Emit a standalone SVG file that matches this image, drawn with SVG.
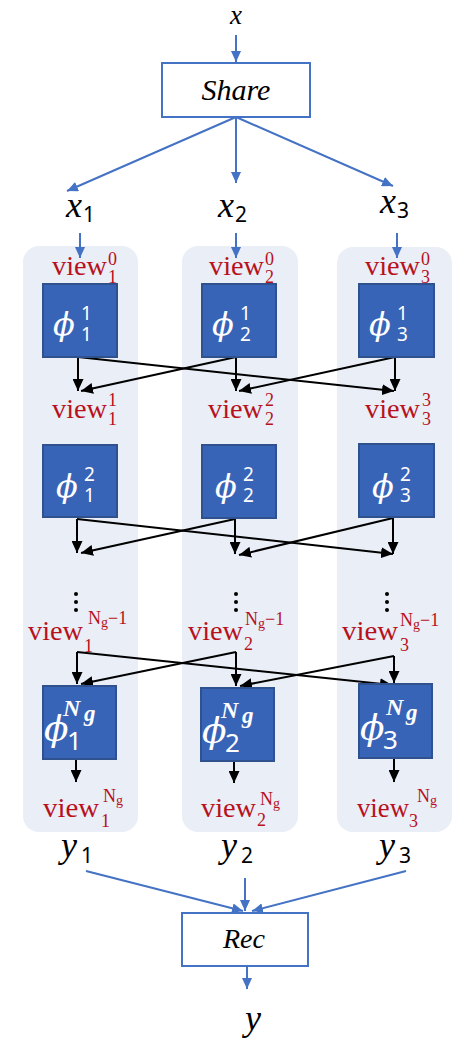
<svg xmlns="http://www.w3.org/2000/svg" width="475" height="1049" viewBox="0 0 475 1049">
<style>
.bg{fill:#fff}
.panel{fill:#E9EEF7}
.box{fill:#3864B8;stroke:#2F528F;stroke-width:2}
.wbox{fill:#fff;stroke:#4472C4;stroke-width:2}
.blue{stroke:#4472C4;stroke-width:2;fill:none}
.blk{stroke:#000;stroke-width:2;fill:none}
.m{font-family:"Liberation Serif",serif;font-style:italic;fill:#000}
.d{font-family:"Noto Sans","DejaVu Sans",sans-serif;fill:#000}
.lbl{font-family:"Liberation Serif",serif;fill:#B8111C}
.phi{font-family:"DejaVu Serif",serif;font-style:italic;fill:#fff}
.pd{font-family:"Noto Sans","DejaVu Sans",sans-serif;font-style:normal;fill:#fff}
.pn{font-family:"Liberation Serif",serif;font-style:italic;font-weight:bold}
.dot{fill:#000}
</style>
<defs>
<marker id="ab" markerUnits="userSpaceOnUse" markerWidth="11" markerHeight="10" refX="11" refY="5" orient="auto"><path d="M0,0 L11,5 L0,10 z" fill="#4472C4"/></marker>
<marker id="ak" markerUnits="userSpaceOnUse" markerWidth="12" markerHeight="11" refX="12" refY="5.5" orient="auto"><path d="M0,0 L12,5.5 L0,11 z" fill="#000"/></marker>
</defs>
<rect class="bg" x="0" y="0" width="475" height="1049"/>
<g id="panels">
<rect class="panel" x="23" y="246" width="115" height="586" rx="16"/>
<rect class="panel" x="182" y="246" width="116" height="586" rx="16"/>
<rect class="panel" x="337" y="247" width="115" height="585" rx="16"/>
</g>
<g id="connectors">
<line class="blue" x1="236" y1="35" x2="236" y2="62" marker-end="url(#ab)"/>
<line class="blue" x1="236" y1="117" x2="67" y2="191" marker-end="url(#ab)"/>
<line class="blue" x1="236" y1="117" x2="236" y2="183" marker-end="url(#ab)"/>
<line class="blue" x1="236" y1="117" x2="393" y2="186" marker-end="url(#ab)"/>
<line class="blue" x1="80" y1="233" x2="80" y2="258" marker-end="url(#ab)"/>
<line class="blue" x1="236" y1="233" x2="236" y2="258" marker-end="url(#ab)"/>
<line class="blue" x1="397" y1="233" x2="397" y2="258" marker-end="url(#ab)"/>
<line class="blk" x1="78" y1="357" x2="78" y2="391" marker-end="url(#ak)"/>
<line class="blk" x1="78" y1="357" x2="394" y2="391" marker-end="url(#ak)"/>
<line class="blk" x1="236" y1="357" x2="236" y2="391" marker-end="url(#ak)"/>
<line class="blk" x1="236" y1="357" x2="81" y2="391" marker-end="url(#ak)"/>
<line class="blk" x1="395" y1="357" x2="395" y2="391" marker-end="url(#ak)"/>
<line class="blk" x1="395" y1="357" x2="239" y2="391" marker-end="url(#ak)"/>
<line class="blk" x1="77" y1="519" x2="77" y2="553" marker-end="url(#ak)"/>
<line class="blk" x1="77" y1="519" x2="393" y2="554" marker-end="url(#ak)"/>
<line class="blk" x1="235" y1="519" x2="235" y2="554" marker-end="url(#ak)"/>
<line class="blk" x1="235" y1="519" x2="81" y2="553" marker-end="url(#ak)"/>
<line class="blk" x1="393" y1="518" x2="393" y2="554" marker-end="url(#ak)"/>
<line class="blk" x1="393" y1="518" x2="239" y2="555" marker-end="url(#ak)"/>
<line class="blk" x1="77" y1="652" x2="77" y2="684" marker-end="url(#ak)"/>
<line class="blk" x1="77" y1="652" x2="392" y2="685" marker-end="url(#ak)"/>
<line class="blk" x1="236" y1="652" x2="236" y2="686" marker-end="url(#ak)"/>
<line class="blk" x1="236" y1="652" x2="81" y2="684" marker-end="url(#ak)"/>
<line class="blk" x1="394" y1="656" x2="394" y2="683" marker-end="url(#ak)"/>
<line class="blk" x1="394" y1="656" x2="240" y2="686" marker-end="url(#ak)"/>
<line class="blk" x1="76" y1="760" x2="76" y2="782" marker-end="url(#ak)"/>
<line class="blk" x1="234" y1="762" x2="234" y2="783" marker-end="url(#ak)"/>
<line class="blk" x1="394" y1="759" x2="394" y2="782" marker-end="url(#ak)"/>
<line class="blue" x1="86" y1="871" x2="243" y2="911" marker-end="url(#ab)"/>
<line class="blue" x1="245" y1="878" x2="245" y2="911" marker-end="url(#ab)"/>
<line class="blue" x1="406" y1="871" x2="252" y2="911" marker-end="url(#ab)"/>
<line class="blue" x1="247" y1="966" x2="247" y2="989" marker-end="url(#ab)"/>
</g>
<g id="x">
<text class="m" x="236" y="24" font-size="27" text-anchor="middle">x</text>
</g>
<g id="share">
<rect class="wbox" x="162" y="63" width="148" height="54"/>
<text class="m" x="236" y="100" font-size="30" text-anchor="middle">Share</text>
</g>
<g id="x1"><text class="m" x="66" y="217" font-size="36">x<tspan class="d" x="83" y="222" font-size="21" font-style="normal">1</tspan></text></g>
<g id="x2"><text class="m" x="218" y="217" font-size="36">x<tspan class="d" x="235" y="222" font-size="21" font-style="normal">2</tspan></text></g>
<g id="x3"><text class="m" x="380" y="213" font-size="36">x<tspan class="d" x="397" y="218" font-size="21" font-style="normal">3</tspan></text></g>

<g id="view0_1"><text class="lbl" x="52" y="275" font-size="28" textLength="55" lengthAdjust="spacingAndGlyphs">view</text><text class="lbl" font-size="18"><tspan x="108" y="265">0</tspan><tspan x="108" y="283">1</tspan></text></g>
<g id="view0_2"><text class="lbl" x="209" y="275" font-size="28" textLength="55" lengthAdjust="spacingAndGlyphs">view</text><text class="lbl" font-size="18"><tspan x="265" y="265">0</tspan><tspan x="265" y="283">2</tspan></text></g>
<g id="view0_3"><text class="lbl" x="365" y="275" font-size="28" textLength="55" lengthAdjust="spacingAndGlyphs">view</text><text class="lbl" font-size="18"><tspan x="421" y="265">0</tspan><tspan x="421" y="283">3</tspan></text></g>

<g id="phi1_1"><rect class="box" x="43" y="284" width="74" height="73"/><text class="phi" x="53" y="335" font-size="32">ϕ<tspan class="pd" x="81" y="320" font-size="19">1</tspan><tspan class="pd" x="81" y="341" font-size="19">1</tspan></text></g>
<g id="phi1_2"><rect class="box" x="202" y="284" width="74" height="73"/><text class="phi" x="212" y="335" font-size="32">ϕ<tspan class="pd" x="240" y="320" font-size="19">1</tspan><tspan class="pd" x="240" y="341" font-size="19">2</tspan></text></g>
<g id="phi1_3"><rect class="box" x="359" y="284" width="75" height="73"/><text class="phi" x="369" y="335" font-size="32">ϕ<tspan class="pd" x="397" y="320" font-size="19">1</tspan><tspan class="pd" x="397" y="341" font-size="19">3</tspan></text></g>

<g id="view1_1"><text class="lbl" x="52" y="418" font-size="28" textLength="55" lengthAdjust="spacingAndGlyphs">view</text><text class="lbl" font-size="18"><tspan x="108" y="406">1</tspan><tspan x="108" y="425">1</tspan></text></g>
<g id="view2_2"><text class="lbl" x="208" y="418" font-size="28" textLength="55" lengthAdjust="spacingAndGlyphs">view</text><text class="lbl" font-size="18"><tspan x="265" y="406">2</tspan><tspan x="265" y="425">2</tspan></text></g>
<g id="view3_3"><text class="lbl" x="365" y="418" font-size="28" textLength="55" lengthAdjust="spacingAndGlyphs">view</text><text class="lbl" font-size="18"><tspan x="422" y="406">3</tspan><tspan x="422" y="425">3</tspan></text></g>

<g id="phi2_1"><rect class="box" x="43" y="445" width="74" height="72"/><text class="phi" x="56" y="497" font-size="32">ϕ<tspan class="pd" x="84" y="481" font-size="19">2</tspan><tspan class="pd" x="84" y="502" font-size="19">1</tspan></text></g>
<g id="phi2_2"><rect class="box" x="202" y="445" width="74" height="73"/><text class="phi" x="215" y="497" font-size="32">ϕ<tspan class="pd" x="243" y="481" font-size="19">2</tspan><tspan class="pd" x="243" y="502" font-size="19">2</tspan></text></g>
<g id="phi2_3"><rect class="box" x="359" y="444" width="75" height="73"/><text class="phi" x="372" y="497" font-size="32">ϕ<tspan class="pd" x="400" y="481" font-size="19">2</tspan><tspan class="pd" x="400" y="502" font-size="19">3</tspan></text></g>

<g id="viewNg1_1"><circle class="dot" cx="76" cy="594" r="2"/><circle class="dot" cx="76" cy="602" r="2"/><circle class="dot" cx="76" cy="610" r="2"/><text class="lbl" x="28" y="640" font-size="28" textLength="55" lengthAdjust="spacingAndGlyphs">view</text><text class="lbl" font-size="18"><tspan x="88" y="624">N</tspan><tspan font-size="14" dy="3">g</tspan><tspan dy="-3">−1</tspan><tspan x="84" y="652">1</tspan></text></g>
<g id="viewNg1_2"><circle class="dot" cx="236" cy="594" r="2"/><circle class="dot" cx="236" cy="602" r="2"/><circle class="dot" cx="236" cy="610" r="2"/><text class="lbl" x="188" y="640" font-size="28" textLength="55" lengthAdjust="spacingAndGlyphs">view</text><text class="lbl" font-size="18"><tspan x="245" y="625">N</tspan><tspan font-size="14" dy="3">g</tspan><tspan dy="-3">−1</tspan><tspan x="244" y="650">2</tspan></text></g>
<g id="viewNg1_3"><circle class="dot" cx="387" cy="594" r="2"/><circle class="dot" cx="387" cy="602" r="2"/><circle class="dot" cx="387" cy="610" r="2"/><text class="lbl" x="342" y="640" font-size="28" textLength="56" lengthAdjust="spacingAndGlyphs">view</text><text class="lbl" font-size="18"><tspan x="400" y="626">N</tspan><tspan font-size="14" dy="3">g</tspan><tspan dy="-3">−1</tspan><tspan x="400" y="651">3</tspan></text></g>

<g id="phiNg_1"><rect class="box" x="43" y="686" width="73" height="73"/><text class="phi" x="44" y="741" font-size="36">ϕ<tspan class="pd" x="67" y="750" font-size="26">1</tspan><tspan class="pn" x="63" y="716" font-size="24">N</tspan><tspan class="pn" x="84" y="721" font-size="23">g</tspan></text></g>
<g id="phiNg_2"><rect class="box" x="201" y="688" width="73" height="73"/><text class="phi" x="202" y="743" font-size="36">ϕ<tspan class="pd" x="225" y="752" font-size="26">2</tspan><tspan class="pn" x="221" y="718" font-size="24">N</tspan><tspan class="pn" x="242" y="723" font-size="23">g</tspan></text></g>
<g id="phiNg_3"><rect class="box" x="359" y="684" width="73" height="74"/><text class="phi" x="360" y="740" font-size="36">ϕ<tspan class="pd" x="383" y="749" font-size="26">3</tspan><tspan class="pn" x="386" y="715" font-size="24">N</tspan><tspan class="pn" x="406" y="720" font-size="23">g</tspan></text></g>

<g id="viewNg_1"><text class="lbl" x="43" y="817" font-size="28" textLength="56" lengthAdjust="spacingAndGlyphs">view</text><text class="lbl" font-size="18"><tspan x="103" y="802">N</tspan><tspan font-size="14" dy="3">g</tspan><tspan x="101" y="827">1</tspan></text></g>
<g id="viewNg_2"><text class="lbl" x="201" y="817" font-size="28" textLength="55" lengthAdjust="spacingAndGlyphs">view</text><text class="lbl" font-size="18"><tspan x="260" y="805">N</tspan><tspan font-size="14" dy="3">g</tspan><tspan x="257" y="826">2</tspan></text></g>
<g id="viewNg_3"><text class="lbl" x="357" y="817" font-size="28" textLength="52" lengthAdjust="spacingAndGlyphs">view</text><text class="lbl" font-size="18"><tspan x="417" y="802">N</tspan><tspan font-size="14" dy="3">g</tspan><tspan x="409" y="827">3</tspan></text></g>

<g id="y1"><text class="m" x="61" y="857" font-size="36">y<tspan class="d" font-style="normal" x="81" y="863" font-size="21">1</tspan></text></g>
<g id="y2"><text class="m" x="221" y="857" font-size="36">y<tspan class="d" font-style="normal" x="241" y="863" font-size="21">2</tspan></text></g>
<g id="y3"><text class="m" x="379" y="857" font-size="36">y<tspan class="d" font-style="normal" x="399" y="863" font-size="21">3</tspan></text></g>

<g id="rec">
<rect class="wbox" x="182" y="913" width="126" height="53"/>
<text class="m" x="244" y="948" font-size="28" text-anchor="middle">Rec</text>
</g>
<g id="y"><text class="m" x="253" y="1030" font-size="36" text-anchor="middle">y</text></g>
</svg>
